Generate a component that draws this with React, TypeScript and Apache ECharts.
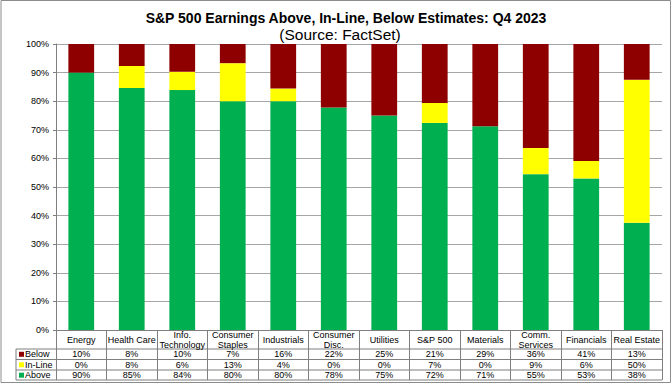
import React, { useEffect, useRef } from "react";
import * as echarts from "echarts";

const categories = [
  "Energy",
  "Health Care",
  "Info.\nTechnology",
  "Consumer\nStaples",
  "Industrials",
  "Consumer\nDisc.",
  "Utilities",
  "S&P 500",
  "Materials",
  "Comm.\nServices",
  "Financials",
  "Real Estate",
];
const above = [90, 84.6, 83.9, 80.0, 80.0, 77.8, 75.0, 72.4, 71.2, 54.5, 53.0, 37.5];
const inLine = [0, 7.7, 6.4, 13.3, 4.4, 0, 0, 7.0, 0, 9.1, 6.1, 50.0];
const below = [10, 7.7, 9.7, 6.7, 15.6, 22.2, 25.0, 20.6, 28.8, 36.4, 40.9, 12.5];
const yTicks = { min: 0, max: 100, interval: 10 };

const GREEN = "#00B050";
const YELLOW = "#FFFF00";
const RED = "#8E0000";
const GRID_COLOR = "#A6A6A6";
const LINE = "#7F7F7F";
const FONT = "Liberation Sans, Arial, sans-serif";

const pct = (v: number) => Math.round(v) + "%";

export default function App() {
  const ref = useRef<HTMLDivElement>(null);
  useEffect(() => {
    document.body.style.margin = "0";
    if (!ref.current) return;
    const chart = echarts.init(ref.current, null, { renderer: "svg" });

    const L = 56, R = 662, T = 44, B = 330;
    const tableLeft = 16;
    const rowLines = [349, 359.5, 370, 380];
    const rowCenters = [354.3, 364.8, 375.2];
    const rowNames = ["Below", "In-Line", "Above"];
    const rowColors = [RED, YELLOW, GREEN];
    const rowData = [below, inLine, above];

    const graphics: any[] = [
      {
        type: "rect",
        shape: { x: 1, y: 0.5, width: 669.5, height: 382 },
        style: { fill: "none", stroke: "#8C8C8C", lineWidth: 1 },
        silent: true,
      },
    ];
    rowLines.forEach((y) => {
      graphics.push({
        type: "line",
        shape: { x1: tableLeft, y1: y, x2: R, y2: y },
        style: { stroke: LINE, lineWidth: 1 },
        silent: true,
      });
    });
    graphics.push({
      type: "line",
      shape: { x1: tableLeft, y1: rowLines[0], x2: tableLeft, y2: rowLines[3] },
      style: { stroke: LINE, lineWidth: 1 },
      silent: true,
    });
    rowNames.forEach((name, i) => {
      graphics.push({
        type: "rect",
        shape: { x: 19, y: rowCenters[i] - 2.5, width: 5, height: 5 },
        style: { fill: rowColors[i] },
        silent: true,
      });
      graphics.push({
        type: "text",
        x: 25,
        y: rowCenters[i],
        style: {
          text: name,
          font: `9px ${FONT}`,
          fill: "#000",
          verticalAlign: "middle",
          align: "left",
        },
        silent: true,
      });
    });

    const valueAxes = rowData.map((arr, i) => ({
      type: "category",
      gridIndex: 0,
      position: "bottom",
      data: categories,
      axisLine: { show: false },
      axisTick: { show: false },
      splitLine: { show: false },
      axisLabel: {
        interval: 0,
        margin: rowCenters[i] - B,
        verticalAlign: "middle",
        fontSize: 9,
        fontFamily: FONT,
        color: "#000",
        formatter: (_v: string, idx: number) => pct(arr[idx]),
      },
    }));

    chart.setOption({
      animation: false,
      title: [
        {
          text: "S&P 500 Earnings Above, In-Line, Below Estimates: Q4 2023",
          left: 341,
          top: 6,
          textAlign: "center",
          textStyle: { fontSize: 14, fontWeight: "bold", fontFamily: FONT, color: "#000" },
        },
        {
          text: "(Source: FactSet)",
          left: 335,
          top: 21,
          textAlign: "center",
          textStyle: { fontSize: 15.5, fontWeight: "normal", fontFamily: FONT, color: "#000" },
        },
      ],
      grid: { left: L, right: 672 - R, top: T, bottom: 384 - B, containLabel: false },
      xAxis: [
        {
          type: "category",
          data: categories,
          position: "bottom",
          axisLine: { show: true, lineStyle: { color: LINE, width: 1 } },
          axisTick: {
            show: true,
            length: rowLines[3] - B,
            interval: 0,
            lineStyle: { color: LINE, width: 1 },
          },
          axisLabel: {
            interval: 0,
            margin: 9.5,
            verticalAlign: "middle",
            fontSize: 9,
            lineHeight: 10,
            fontFamily: FONT,
            color: "#000",
          },
        },
        ...valueAxes,
      ],
      yAxis: {
        type: "value",
        min: yTicks.min,
        max: yTicks.max,
        interval: yTicks.interval,
        axisLine: { show: true, lineStyle: { color: LINE } },
        axisTick: { show: true, length: 3, lineStyle: { color: LINE } },
        splitLine: { show: true, lineStyle: { color: GRID_COLOR, width: 1 } },
        axisLabel: {
          formatter: "{value}%",
          fontSize: 9,
          fontFamily: FONT,
          color: "#000",
          margin: 7,
        },
      },
      series: [
        { name: "Above", type: "bar", stack: "s", data: above, barWidth: "51%", itemStyle: { color: GREEN } },
        { name: "In-Line", type: "bar", stack: "s", data: inLine, barWidth: "51%", itemStyle: { color: YELLOW } },
        { name: "Below", type: "bar", stack: "s", data: below, barWidth: "51%", itemStyle: { color: RED } },
      ],
      graphic: graphics,
    });
    return () => chart.dispose();
  }, []);
  return <div ref={ref} style={{ width: 672, height: 384 }} />;
}
